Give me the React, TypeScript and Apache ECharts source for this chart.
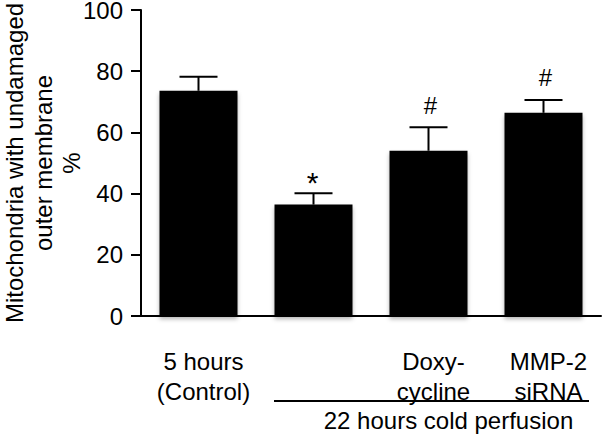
import React, { useEffect, useRef } from "react";
import * as echarts from "echarts";

const categories = ["5 hours\n(Control)", "", "Doxy-\ncycline", "MMP-2\nsiRNA"];
const means = [73.6, 36.4, 54.0, 66.4];
const upperErrors = [78.2, 40.1, 61.7, 70.6];
const marks = ["", "*", "#", "#"];
const groupLabel = "22 hours cold perfusion";
const yTitle = "Mitochondria with undamaged\nouter membrane\n%";
const yMin = 0;
const yMax = 100;
const yInterval = 20;

const FONT = "'Liberation Sans', Arial, Helvetica, sans-serif";

export default function App() {
  const ref = useRef<HTMLDivElement>(null);
  useEffect(() => {
    const chart = echarts.init(ref.current!, null, { renderer: "svg" });
    const markStyle: Record<string, { dx: number; dy: number; size: number }> = {
      "*": { dx: -1, dy: 4, size: 30 },
      "#": { dx: 2, dy: -10, size: 24 },
    };
    const shadow = { shadowColor: "rgba(0,0,0,0.3)", shadowBlur: 4, shadowOffsetY: 3 };
    chart.setOption({
      animation: false,
      grid: { left: 141, top: 10, width: 460, height: 306, containLabel: false, outerBoundsMode: "none" },
      xAxis: {
        type: "category",
        data: categories,
        axisLine: { lineStyle: { color: "#000", width: 2 } },
        axisTick: { show: false },
        axisLabel: {
          interval: 0,
          color: "#000",
          fontSize: 24,
          lineHeight: 30,
          fontFamily: FONT,
          margin: 30,
          padding: [0, 0, 0, 10],
        },
      },
      yAxis: {
        type: "value",
        min: yMin,
        max: yMax,
        interval: yInterval,
        name: yTitle,
        nameLocation: "middle",
        nameGap: 55,
        nameMoveOverlap: false,
        nameTextStyle: { color: "#000", fontSize: 24, lineHeight: 28.5, fontFamily: FONT },
        axisLine: { show: true, lineStyle: { color: "#000", width: 2 } },
        axisTick: { show: true, length: 10, lineStyle: { color: "#000", width: 2 } },
        axisLabel: { color: "#000", fontSize: 24, lineHeight: 18, fontFamily: FONT, margin: 18 },
        splitLine: { show: false },
      },
      series: [
        {
          type: "bar",
          data: means,
          barWidth: 78,
          itemStyle: { color: "#000", ...shadow },
        },
        {
          type: "custom",
          data: means.map((m, i) => [i, m, upperErrors[i]]),
          z: 3,
          renderItem: (params: any, api: any) => {
            const x = api.value(0);
            const base = api.coord([x, api.value(1)]);
            const top = api.coord([x, api.value(2)]);
            const half = 19;
            const children: any[] = [
              { type: "line", shape: { x1: base[0], y1: base[1], x2: top[0], y2: top[1] }, style: { stroke: "#000", lineWidth: 2 } },
              { type: "line", shape: { x1: top[0] - half, y1: top[1], x2: top[0] + half, y2: top[1] }, style: { stroke: "#000", lineWidth: 2 } },
            ];
            const sign = marks[params.dataIndex];
            if (sign) {
              const ms = markStyle[sign] ?? { dx: 0, dy: -10, size: 24 };
              children.push({
                type: "text",
                x: top[0] + ms.dx,
                y: top[1] + ms.dy,
                style: { text: sign, fill: "#000", font: `${ms.size}px ${FONT}`, align: "center", verticalAlign: "bottom" },
              });
            }
            return { type: "group", children };
          },
        },
      ],
      graphic: [
        { type: "line", shape: { x1: 274, y1: 401, x2: 589, y2: 401 }, style: { stroke: "#000", lineWidth: 2 } },
        {
          type: "text",
          x: 448.5,
          y: 420,
          style: { text: groupLabel, fill: "#000", font: `24px ${FONT}`, align: "center", verticalAlign: "middle" },
        },
      ],
    });
    return () => chart.dispose();
  }, []);
  return <div ref={ref} style={{ position: "absolute", left: 0, top: 0, width: 609, height: 435 }} />;
}
